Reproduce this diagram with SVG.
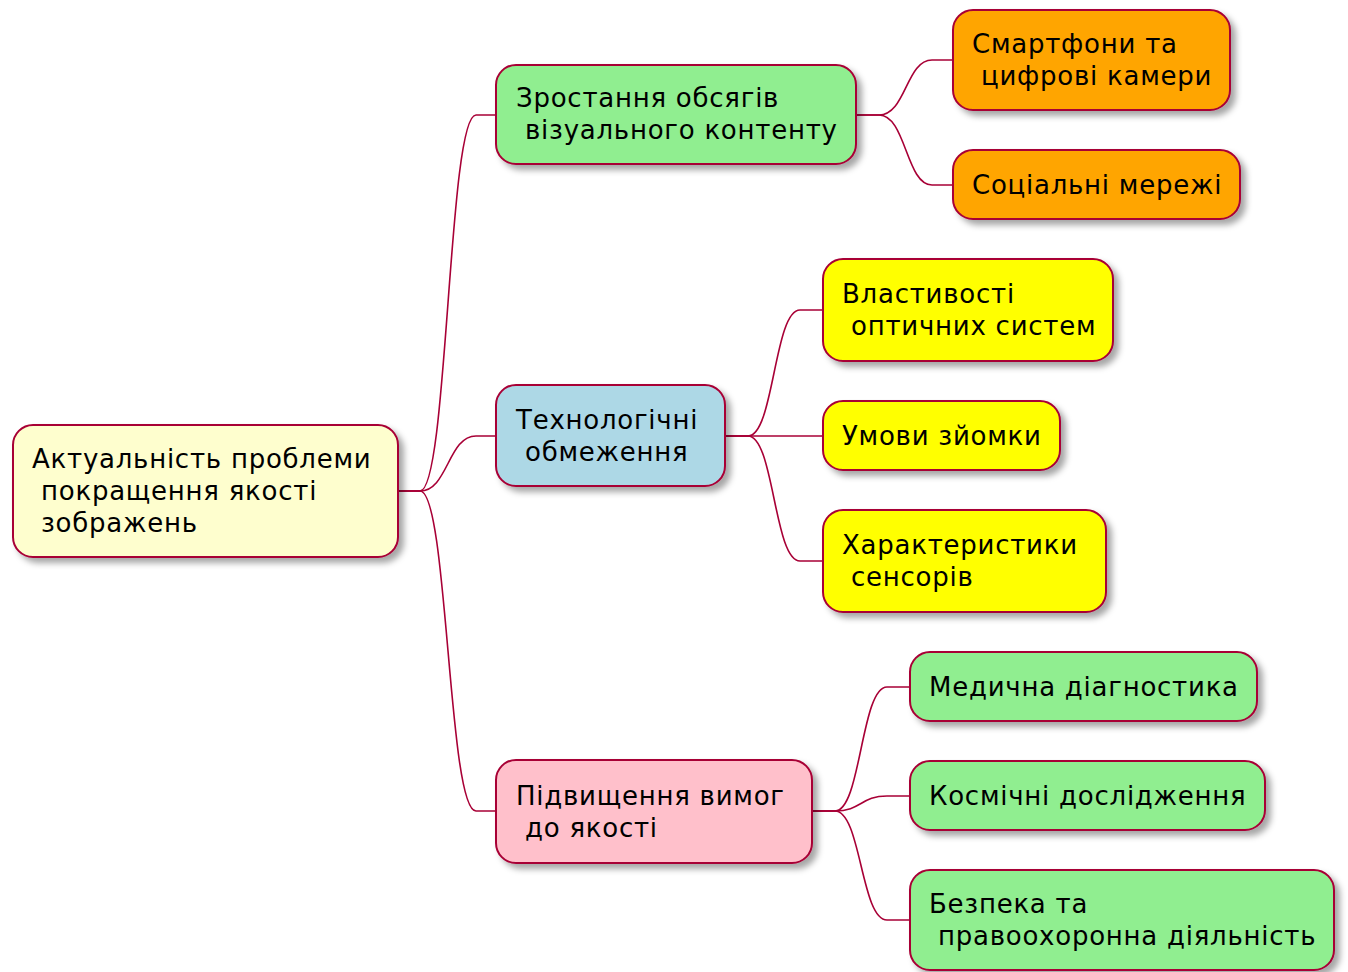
<svg xmlns="http://www.w3.org/2000/svg" width="1348" height="972" viewBox="0 0 1348 972">
  <defs>
    <filter id="shadow" x="-10%" y="-10%" width="130%" height="140%">
      <feGaussianBlur in="SourceAlpha" stdDeviation="3"/>
      <feOffset dx="5" dy="5" result="blur"/>
      <feFlood flood-color="#000000" flood-opacity="0.35"/>
      <feComposite in2="blur" operator="in"/>
      <feMerge>
        <feMergeNode/>
        <feMergeNode in="SourceGraphic"/>
      </feMerge>
    </filter>
  </defs>
  <style>
    .node rect { stroke: #A80036; stroke-width: 2; filter: url(#shadow); }
    .node text { font-family: "DejaVu Sans", "Noto Sans", sans-serif; font-size: 26px; letter-spacing: 0.75px; fill: #000000; white-space: pre; }
    .links path { fill: none; stroke: #A80036; stroke-width: 1.6; }
    .root { fill: #FEFECE; }
    .green { fill: #90EE90; }
    .blue { fill: #ADD8E6; }
    .pink { fill: #FFC0CB; }
    .orange { fill: #FFA500; }
    .yellow { fill: #FFFF00; }
  </style>
  <rect width="1348" height="972" fill="#FFFFFF"/>

  <!-- connectors -->
  <g class="links">
    <path d="M398,491 H420 C448,491 448,115 476,115 H496"/>
    <path d="M398,491 H420 C448,491 448,436 476,436 H496"/>
    <path d="M398,491 H420 C448,491 448,811 476,811 H496"/>

    <path d="M856,115 H879 C906,115 906,60 932,60 H953"/>
    <path d="M856,115 H879 C906,115 906,185 932,185 H953"/>

    <path d="M725,436 H748 C774,436 774,310 800,310 H823"/>
    <path d="M725,436 H823"/>
    <path d="M725,436 H748 C774,436 774,561 800,561 H823"/>

    <path d="M812,811 H835 C861,811 861,687 887,687 H910"/>
    <path d="M812,811 H835 C861,811 861,796 887,796 H910"/>
    <path d="M812,811 H835 C861,811 861,920 887,920 H910"/>
  </g>

  <!-- root -->
  <g id="root" class="node">
    <rect class="root" x="13" y="425" width="385" height="132" rx="20"/>
    <text x="32" y="468">Актуальність проблеми</text>
    <text x="32" y="500"> покращення якості</text>
    <text x="32" y="532"> зображень</text>
  </g>

  <!-- first level -->
  <g id="growth" class="node">
    <rect class="green" x="496" y="65" width="360" height="99" rx="20"/>
    <text x="516" y="107">Зростання обсягів</text>
    <text x="516" y="139"> візуального контенту</text>
  </g>
  <g id="tech" class="node">
    <rect class="blue" x="496" y="385" width="229" height="101" rx="20"/>
    <text x="516" y="429">Технологічні</text>
    <text x="516" y="461"> обмеження</text>
  </g>
  <g id="demand" class="node">
    <rect class="pink" x="496" y="760" width="316" height="103" rx="20"/>
    <text x="516" y="805">Підвищення вимог</text>
    <text x="516" y="837"> до якості</text>
  </g>

  <!-- growth children -->
  <g id="phones" class="node">
    <rect class="orange" x="953" y="10" width="277" height="100" rx="20"/>
    <text x="972" y="53">Смартфони та</text>
    <text x="972" y="85"> цифрові камери</text>
  </g>
  <g id="social" class="node">
    <rect class="orange" x="953" y="150" width="287" height="69" rx="20"/>
    <text x="972" y="194">Соціальні мережі</text>
  </g>

  <!-- tech children -->
  <g id="optics" class="node">
    <rect class="yellow" x="823" y="259" width="290" height="102" rx="20"/>
    <text x="842" y="303">Властивості</text>
    <text x="842" y="335"> оптичних систем</text>
  </g>
  <g id="conditions" class="node">
    <rect class="yellow" x="823" y="401" width="237" height="69" rx="20"/>
    <text x="842" y="445">Умови зйомки</text>
  </g>
  <g id="sensors" class="node">
    <rect class="yellow" x="823" y="510" width="283" height="102" rx="20"/>
    <text x="842" y="554">Характеристики</text>
    <text x="842" y="586"> сенсорів</text>
  </g>

  <!-- demand children -->
  <g id="medical" class="node">
    <rect class="green" x="910" y="652" width="347" height="69" rx="20"/>
    <text x="929" y="696">Медична діагностика</text>
  </g>
  <g id="space" class="node">
    <rect class="green" x="910" y="761" width="355" height="69" rx="20"/>
    <text x="929" y="805">Космічні дослідження</text>
  </g>
  <g id="security" class="node">
    <rect class="green" x="910" y="870" width="424" height="100" rx="20"/>
    <text x="929" y="913">Безпека та</text>
    <text x="929" y="945"> правоохоронна діяльність</text>
  </g>
</svg>
